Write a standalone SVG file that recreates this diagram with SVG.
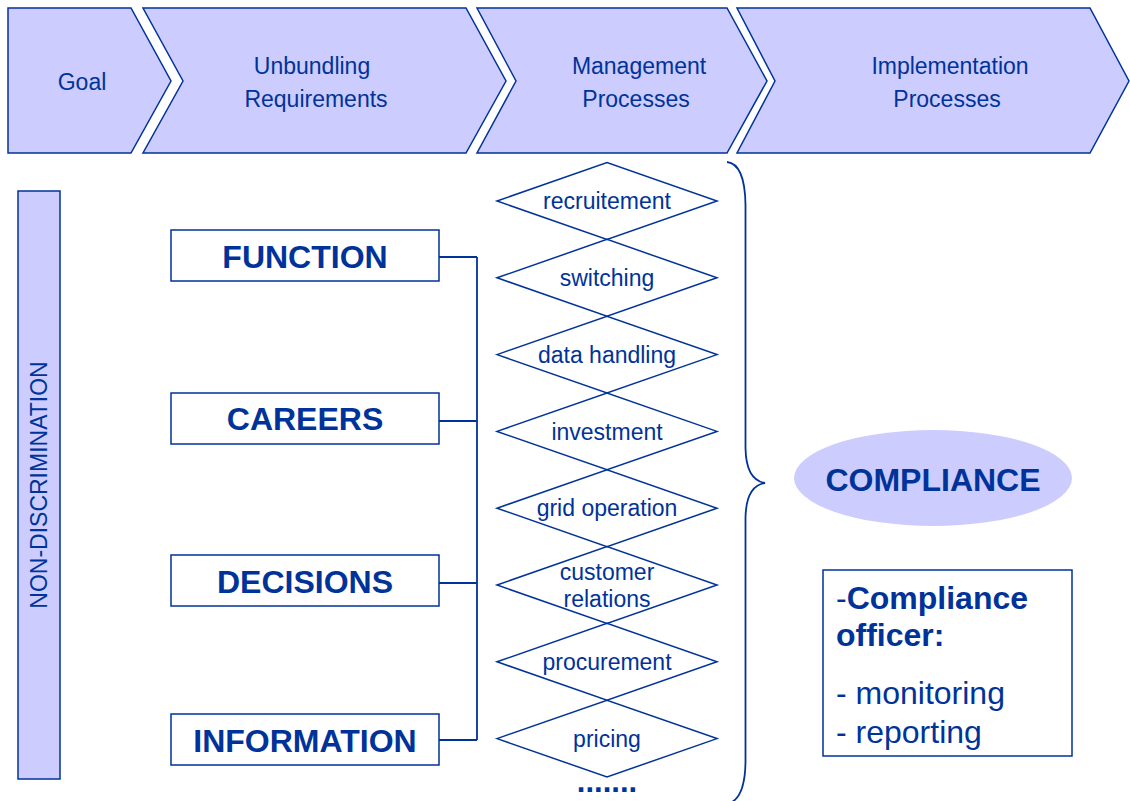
<svg xmlns="http://www.w3.org/2000/svg" width="1130" height="801" viewBox="0 0 1130 801">
<style>
.sh{fill:#ccccff;stroke:#003399;stroke-width:1.5}
.bx{fill:#ffffff;stroke:#003399;stroke-width:1.5}
.dm{fill:none;stroke:#003399;stroke-width:1.5}
.ln{fill:none;stroke:#003399;stroke-width:1.8}
text{font-family:"Liberation Sans",Arial,sans-serif;fill:#003399}
.h{font-size:23px;text-anchor:middle}
.b{font-size:32px;font-weight:bold;text-anchor:middle}
.d{font-size:23px;text-anchor:middle}
</style>
<rect width="1130" height="801" fill="#ffffff"/>
<g id="goal">
<path class="sh" d="M8,8 L131,8 L171,81 L131,153 L8,153 Z"/>
<text class="h" x="82" y="90">Goal</text>
</g>
<g id="unbundling">
<path class="sh" d="M143,8 L466,8 L506,81 L466,153 L143,153 L183,81 Z"/>
<text class="h" x="312" y="74">Unbundling</text>
<text class="h" x="316" y="107">Requirements</text>
</g>
<g id="management">
<path class="sh" d="M477,8 L727,8 L767,81 L727,153 L477,153 L516,81 Z"/>
<text class="h" x="639" y="74">Management</text>
<text class="h" x="636" y="107">Processes</text>
</g>
<g id="implementation">
<path class="sh" d="M737,8 L1090,8 L1129,81 L1090,153 L737,153 L775,81 Z"/>
<text class="h" x="950" y="74">Implementation</text>
<text class="h" x="947" y="107">Processes</text>
</g>
<g id="nondiscrimination">
<rect class="sh" x="18" y="191" width="42" height="588"/>
<text class="h" transform="translate(47,485) rotate(-90)" x="0" y="0">NON-DISCRIMINATION</text>
</g>
<g id="connectors">
<path class="ln" d="M439,257 H477 M439,421 H477 M439,583 H477 M439,740 H477 M477,257 V740"/>
</g>
<g id="function">
<rect class="bx" x="171" y="230" width="268" height="51"/>
<text class="b" x="305" y="268">FUNCTION</text>
</g>
<g id="careers">
<rect class="bx" x="171" y="393" width="268" height="51"/>
<text class="b" x="305" y="430">CAREERS</text>
</g>
<g id="decisions">
<rect class="bx" x="171" y="555" width="268" height="51"/>
<text class="b" x="305" y="593">DECISIONS</text>
</g>
<g id="information">
<rect class="bx" x="171" y="714" width="268" height="51"/>
<text class="b" x="305" y="752">INFORMATION</text>
</g>
<g id="d-recruitement">
<path class="dm" d="M497,201 L607,162.6 L717,201 L607,239.4 Z"/>
<text class="d" x="607" y="209">recruitement</text>
</g>
<g id="d-switching">
<path class="dm" d="M497,277.8 L607,239.4 L717,277.8 L607,316.2 Z"/>
<text class="d" x="607" y="286">switching</text>
</g>
<g id="d-datahandling">
<path class="dm" d="M497,354.6 L607,316.2 L717,354.6 L607,393 Z"/>
<text class="d" x="607" y="363">data handling</text>
</g>
<g id="d-investment">
<path class="dm" d="M497,431.4 L607,393 L717,431.4 L607,469.8 Z"/>
<text class="d" x="607" y="440">investment</text>
</g>
<g id="d-gridoperation">
<path class="dm" d="M497,508.2 L607,469.8 L717,508.2 L607,546.6 Z"/>
<text class="d" x="607" y="516">grid operation</text>
</g>
<g id="d-customerrelations">
<path class="dm" d="M497,585 L607,546.6 L717,585 L607,623.4 Z"/>
<text class="d" x="607" y="580">customer</text>
<text class="d" x="607" y="607">relations</text>
</g>
<g id="d-procurement">
<path class="dm" d="M497,661.8 L607,623.4 L717,661.8 L607,700.2 Z"/>
<text class="d" x="607" y="670">procurement</text>
</g>
<g id="d-pricing">
<path class="dm" d="M497,738.6 L607,700.2 L717,738.6 L607,777 Z"/>
<text class="d" x="607" y="747">pricing</text>
</g>
<text x="607" y="792" font-size="31" font-weight="bold" text-anchor="middle">.......</text>
<g id="brace">
<path class="ln" d="M727,162 Q745,164 745.5,205 L745.5,448 Q746,480 765,483 Q746,486 745.5,518 L745.5,762 Q745,797 730,803"/>
</g>
<g id="compliance">
<ellipse cx="933" cy="478" rx="139" ry="48" fill="#ccccff"/>
<text class="b" x="933" y="491">COMPLIANCE</text>
</g>
<g id="officer">
<rect class="bx" x="823" y="570" width="249" height="186"/>
<text x="836" y="609" font-size="32"><tspan>-</tspan><tspan font-weight="bold">Compliance</tspan></text>
<text x="836" y="646" font-size="32" font-weight="bold">officer:</text>
<text x="836" y="704" font-size="32">- monitoring</text>
<text x="836" y="743" font-size="32">- reporting</text>
</g>
</svg>
